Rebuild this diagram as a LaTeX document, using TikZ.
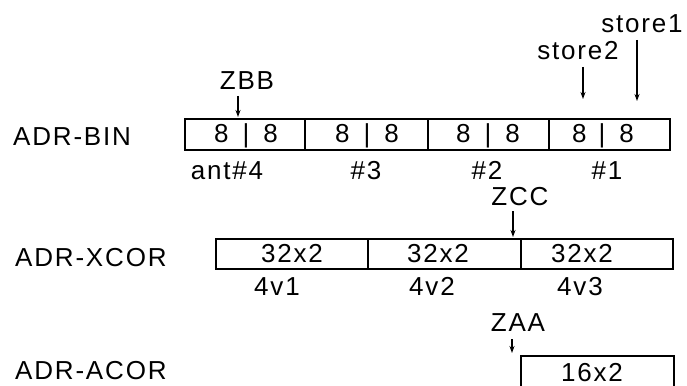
\documentclass[tikz,border=0pt]{standalone}
\usepackage{fontspec}
\setmainfont{Liberation Sans}[LetterSpace=7]
\usetikzlibrary{arrows.meta}
\begin{document}
\begin{tikzpicture}[x=1pt,y=-1pt,
  txt/.style={font=\fontsize{26}{30}\selectfont, inner sep=0pt, anchor=base},
  rowlbl/.style={txt, anchor=base west},
  cellbox/.style={draw, line width=1.6pt, inner sep=0pt, anchor=north west},
  arr/.style={line width=1.2pt, -{Stealth[length=7pt,width=5pt]}},
  eight/.style={txt},
]
\useasboundingbox (0,0) rectangle (687,385);
\clip (0,0) rectangle (687,385);
\fill[white] (0,0) rectangle (687,385);

% ---- ADR-BIN row
\node[rowlbl] (lbin) at (13,145) {ADR-BIN};
\node[cellbox, minimum width=120pt, minimum height=31pt] (b4) at (184,118) {};
\node[cellbox, minimum width=123pt, minimum height=31pt] (b3) at (304,118) {};
\node[cellbox, minimum width=121pt, minimum height=31pt] (b2) at (427,118) {};
\node[cellbox, minimum width=121pt, minimum height=31pt] (b1) at (548,118) {};
\node[eight] (t4) at (246,142) {8\hspace{14pt}|\hspace{14pt}8};
\node[eight] (t3) at (367,142) {8\hspace{14pt}|\hspace{14pt}8};
\node[eight] (t2) at (488,142) {8\hspace{14pt}|\hspace{14pt}8};
\node[eight] (t1) at (603,142) {8\hspace{12pt}|\hspace{14pt}8};
\node[txt] (a4) at (227,179) {ant\#4};
\node[txt] (a3) at (366,179) {\#3};
\node[txt] (a2) at (487,179) {\#2};
\node[txt] (a1) at (607,179) {\#1};

\node[txt] (zbb) at (247,90) {ZBB};
\coordinate (zbbA) at (238,96);
\coordinate (zbbB) at (238,117);
\draw[arr] (zbbA) -- (zbbB);

\node[txt] (st2) at (578,60) {store2};
\coordinate (st2A) at (583,67);
\coordinate (st2B) at (583,99);
\draw[arr] (st2A) -- (st2B);

\node[txt] (st1) at (642,33) {store1};
\coordinate (st1A) at (637,40);
\coordinate (st1B) at (637,101);
\draw[arr] (st1A) -- (st1B);

% ---- ADR-XCOR row
\node[rowlbl] (lxcor) at (15,266) {ADR-XCOR};
\node[cellbox, minimum width=152pt, minimum height=30pt] (x1) at (215,238) {};
\node[cellbox, minimum width=153pt, minimum height=30pt] (x2) at (367,238) {};
\node[cellbox, minimum width=152pt, minimum height=30pt] (x3) at (520,238) {};
\node[txt] (xt1) at (292,262) {32x2};
\node[txt] (xt2) at (438,262) {32x2};
\node[txt] (xt3) at (582,262) {32x2};
\node[txt] (v1) at (277,295) {4v1};
\node[txt] (v2) at (432,295) {4v2};
\node[txt] (v3) at (580,295) {4v3};

\node[txt] (zcc) at (520,205) {ZCC};
\coordinate (zccA) at (513,211);
\coordinate (zccB) at (513,237);
\draw[arr] (zccA) -- (zccB);

% ---- ADR-ACOR row
\node[rowlbl] (lacor) at (15,379) {ADR-ACOR};
\node[cellbox, minimum width=153pt, minimum height=45pt] (ac) at (520,355) {};
\node[txt] (at) at (592,381) {16x2};

\node[txt] (zaa) at (518,331) {ZAA};
\coordinate (zaaA) at (512,339);
\coordinate (zaaB) at (512,353);
\draw[arr] (zaaA) -- (zaaB);
\end{tikzpicture}
\end{document}
